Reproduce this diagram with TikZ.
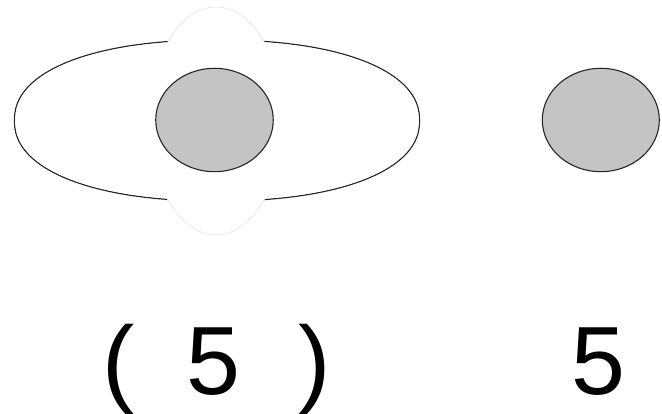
\documentclass[tikz,border=0pt]{standalone}
\usepackage{fontspec}
\setmainfont{Liberation Sans}
\usetikzlibrary{shapes.geometric}
\definecolor{discgray}{HTML}{C4C4C4}
\definecolor{haze}{HTML}{D8D8D8}
\tikzset{
  disc/.style={draw=black!85, line width=1.1pt, fill=discgray},
  outer/.style={draw=black!85, line width=1.2pt, fill=white},
  blob/.style={draw=haze, line width=0.4pt, fill=white},
  big/.style={font=\fontsize{97}{100}\selectfont, inner sep=0pt, anchor=base west},
}
\begin{document}
\begin{tikzpicture}[x=1pt,y=-1pt]
\useasboundingbox (0,0) rectangle (662,414);
% outer rounded oval
\draw[outer] plot[domain=0.5:359.5, samples=360]
  ({217+202.5*sign(cos(\x))*pow(abs(cos(\x)),0.9)},
   {120.5+80.5*sign(sin(\x))*pow(abs(sin(\x)),0.9)}) -- cycle;
% white blob covering top and bottom of the oval
\path[blob] (216,121) ellipse[x radius=67, y radius=114];
% inner white to hide the blob outline inside the oval
\fill[white] plot[domain=0.5:359.5, samples=360]
  ({217+201.6*sign(cos(\x))*pow(abs(cos(\x)),0.9)},
   {120.5+79.6*sign(sin(\x))*pow(abs(sin(\x)),0.9)}) -- cycle;
% discs
\node[disc, ellipse, minimum width=117.5pt, minimum height=103.4pt, inner sep=0pt] (d1) at (214.5,120) {};
\node[disc, ellipse, minimum width=117pt, minimum height=103.4pt, inner sep=0pt] (d2) at (600.8,120) {};
% labels
\node[big] (l1) at (102.2,394) {(\hspace{51.5pt}5\hspace{58.5pt})};
\node[big] (l2) at (571,394) {5};
\end{tikzpicture}
\end{document}
